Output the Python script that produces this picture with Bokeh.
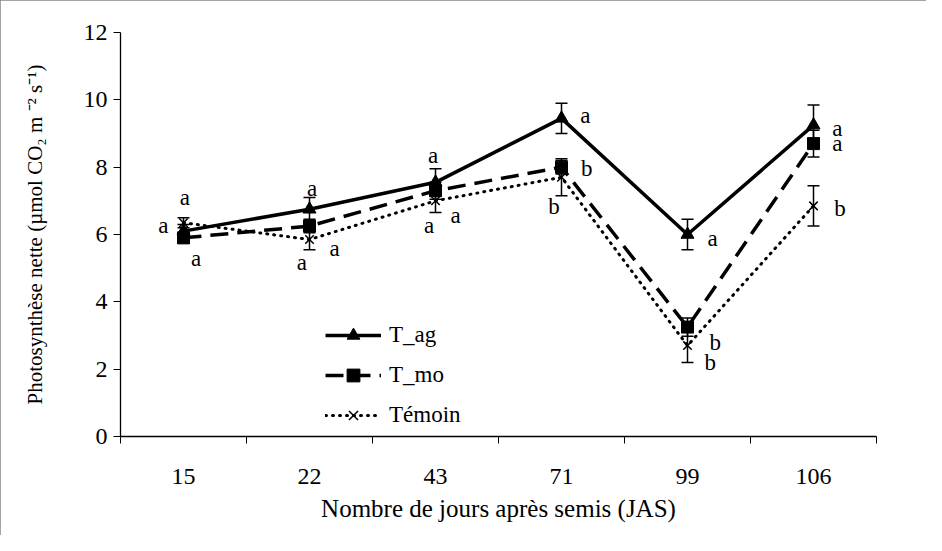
import numpy as np
from bokeh.plotting import figure
from bokeh.models import (ColumnDataSource, Range1d, FixedTicker, Whisker, TeeHead,
                          Legend, LegendItem)
from bokeh.core.properties import value
from bokeh.embed import file_html
from bokeh.resources import INLINE

# ---- data ----
days = ["15", "22", "43", "71", "99", "106"]
t_ag = [6.1, 6.75, 7.55, 9.45, 6.0, 9.25]
t_ag_err = [0.2, 0.35, 0.4, 0.45, 0.45, 0.6]
t_mo = [5.9, 6.25, 7.3, 8.0, 3.25, 8.7]
t_mo_err = [0.15, 0.2, 0.25, 0.2, 0.27, 0.4]
temoin = [6.35, 5.85, 7.0, 7.7, 2.7, 6.85]
temoin_err = [0.15, 0.3, 0.35, 0.55, 0.5, 0.6]
letters_ag = ["a", "a", "a", "a", "a", "a"]
letters_mo = ["a", "a", "a", "b", "b", "a"]
letters_te = ["a", "a", "a", "b", "b", "b"]
y_ticks = [0, 2, 4, 6, 8, 10, 12]

FONT = "Liberation Serif"
xpos = np.arange(len(days)) + 0.5

p = figure(width=926, height=535, output_backend="svg", toolbar_location=None,
           x_range=Range1d(0, len(days)), y_range=Range1d(0, 12),
           min_border_left=120, min_border_right=50, min_border_top=32, min_border_bottom=99)
p.styles = {"outline": "1px solid #868686", "outline-offset": "-1px"}
p.outline_line_color = None
p.grid.visible = False
p.background_fill_color = "white"
p.border_fill_color = "white"

# x axis: labels at category centres, tick marks between categories
p.xaxis.ticker = FixedTicker(ticks=list(xpos), minor_ticks=list(np.arange(len(days) + 1)))
p.xaxis.major_label_overrides = {float(x): d for x, d in zip(xpos, days)}
p.xaxis.major_tick_out = 0
p.xaxis.major_tick_in = 0
p.xaxis.minor_tick_out = 7
p.xaxis.minor_tick_in = 0
p.xaxis.minor_tick_line_color = "black"
p.xaxis.major_label_standoff = 25
p.xaxis.axis_label = "Nombre de jours après semis (JAS)"
p.xaxis.axis_label_standoff = 8

p.yaxis.ticker = FixedTicker(ticks=y_ticks)
p.yaxis.minor_tick_line_color = None
p.yaxis.major_tick_out = 7
p.yaxis.major_tick_in = 0
p.yaxis.major_label_standoff = 6
p.yaxis.axis_label = "Photosynthèse nette (µmol CO₂ m ⁻² s⁻¹)"
p.yaxis.axis_label_standoff = 34

for ax in (p.xaxis[0], p.yaxis[0]):
    ax.axis_line_color = "black"
    ax.axis_line_width = 1.3
    ax.major_tick_line_color = "black"
    ax.major_label_text_font = FONT
    ax.major_label_text_font_size = "24px"
    ax.major_label_text_color = "black"
    ax.axis_label_text_font = FONT
    ax.axis_label_text_font_size = "25px"
    ax.axis_label_text_font_style = "normal"
    ax.axis_label_text_color = "black"
p.yaxis.axis_label_text_font_size = "21px"

src = ColumnDataSource(dict(x=xpos, ag=t_ag, mo=t_mo, te=temoin,
                            ag_lo=np.array(t_ag) - np.array(t_ag_err), ag_hi=np.array(t_ag) + np.array(t_ag_err),
                            mo_lo=np.array(t_mo) - np.array(t_mo_err), mo_hi=np.array(t_mo) + np.array(t_mo_err),
                            te_lo=np.array(temoin) - np.array(temoin_err), te_hi=np.array(temoin) + np.array(temoin_err)))

# error bars
for key in ("ag", "mo", "te"):
    w = Whisker(base="x", lower=f"{key}_lo", upper=f"{key}_hi", source=src,
                line_color="black", line_width=1.5,
                upper_head=TeeHead(size=12, line_width=1.5, line_color="black"),
                lower_head=TeeHead(size=12, line_width=1.5, line_color="black"))
    p.add_layout(w)

l_ag = p.line("x", "ag", source=src, line_color="black", line_width=3.5)
m_ag = p.scatter("x", "ag", source=src, marker="triangle", size=13, color="black")
l_mo = p.line("x", "mo", source=src, line_color="black", line_width=3.5, line_dash="18 9")
m_mo = p.scatter("x", "mo", source=src, marker="square", size=12, color="black")
l_te = p.line("x", "te", source=src, line_color="black", line_width=3, line_dash="1 6", line_cap="round")
m_te = p.scatter("x", "te", source=src, marker="x", size=12, line_color="black", line_width=1.5)

# significance letters (offsets from each point, in category / value units)
lab_dx = [[-0.16, 0.02, -0.02, 0.19, 0.2, 0.19],
          [0.1, 0.2, 0.16, 0.2, 0.22, 0.19],
          [0.01, -0.06, -0.05, -0.06, 0.18, 0.21]]
lab_y = [[6.27, 7.37, 8.35, 9.53, 5.88, 9.15],
         [5.29, 5.58, 6.56, 7.96, 2.79, 8.7],
         [7.1, 5.17, 6.27, 6.83, 2.2, 6.77]]
for letters, dx, ly in zip((letters_ag, letters_mo, letters_te), lab_dx, lab_y):
    p.text(x=xpos + np.array(dx), y=ly, text=letters, text_font=value(FONT),
           text_font_size="23px", text_color="black", text_align="center",
           text_baseline="middle")

legend = Legend(items=[LegendItem(label="T_ag", renderers=[l_ag, m_ag]),
                       LegendItem(label="T_mo", renderers=[l_mo, m_mo]),
                       LegendItem(label="Témoin", renderers=[l_te, m_te])],
                location=(205, 5), glyph_width=56, glyph_height=32, spacing=8,
                padding=0, margin=0, border_line_color=None, background_fill_alpha=0,
                label_text_font=FONT, label_text_font_size="23px", label_standoff=8,
                label_text_color="black")
p.add_layout(legend)

open("out.html", "w").write(file_html(p, INLINE))
